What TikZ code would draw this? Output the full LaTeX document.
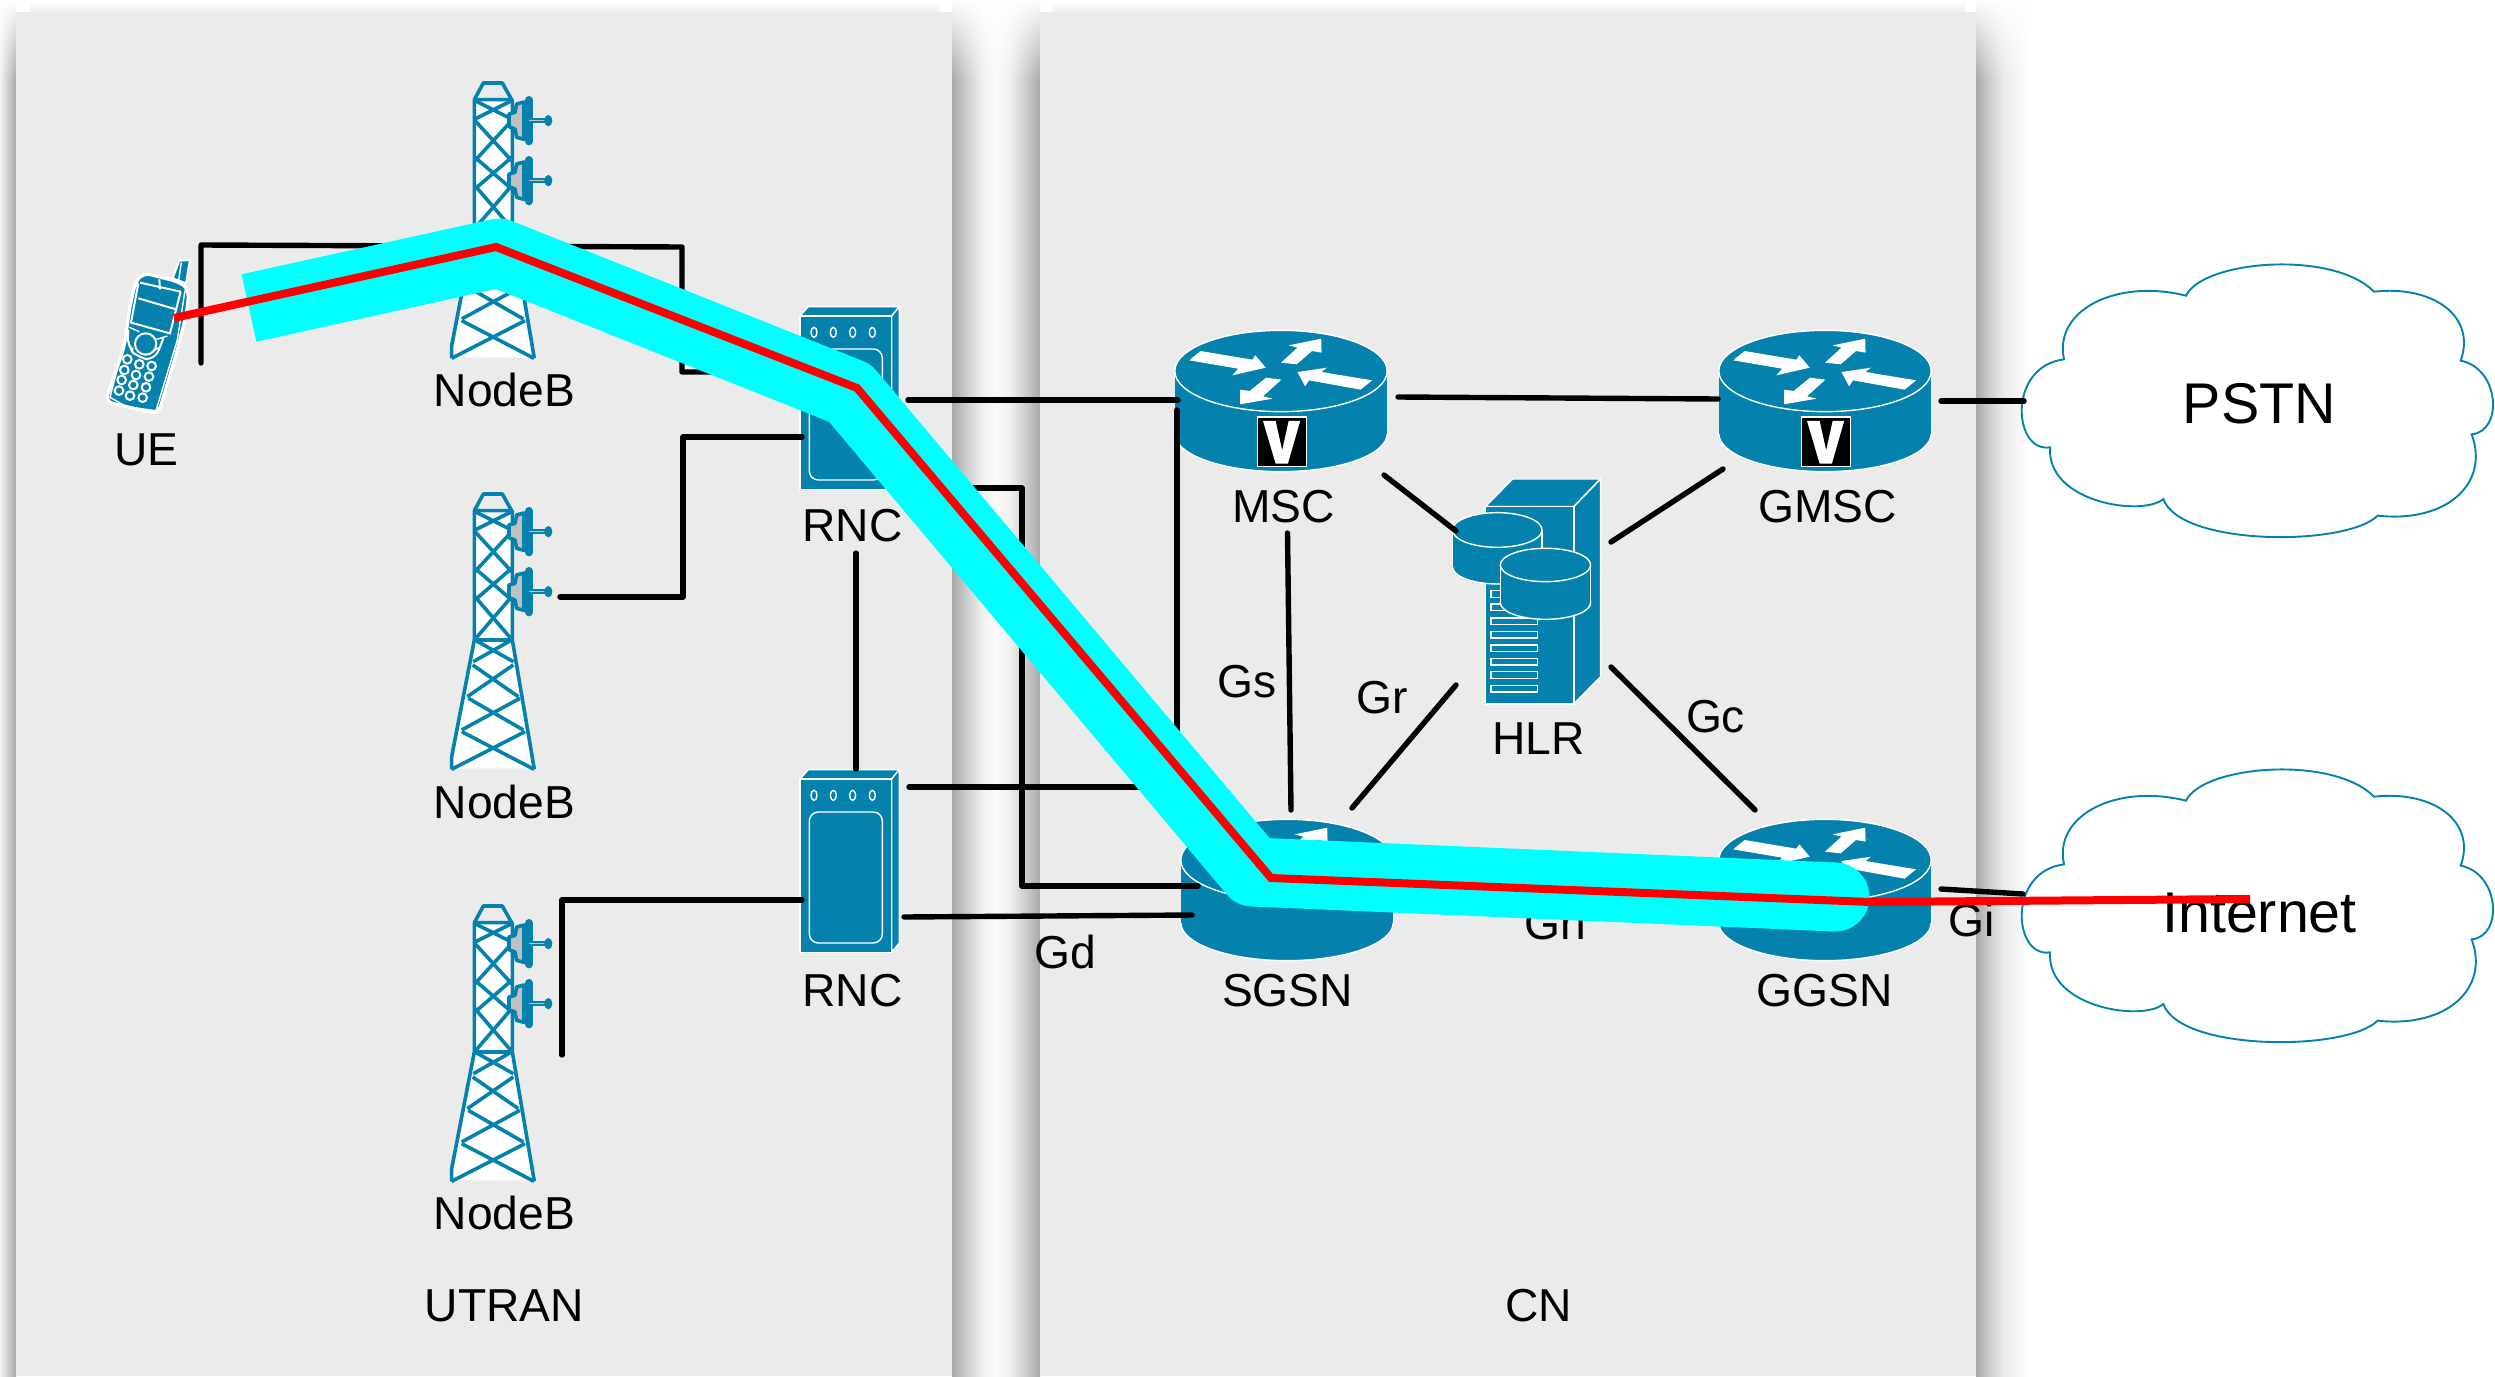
\documentclass[tikz,border=0pt]{standalone}
\usepackage{fontspec}
\setmainfont{Liberation Sans}
\usetikzlibrary{fadings}
\definecolor{ciscoblue}{HTML}{0481AD}
\definecolor{panelgrey}{HTML}{EBEBEB}
\definecolor{shadowgrey}{HTML}{A8A8A8}
\definecolor{dishgrey}{HTML}{C0C0C0}
\definecolor{routecyan}{HTML}{00FFFF}
\definecolor{routered}{HTML}{FF0000}
\pgfdeclarehorizontalshading{gapshade}{100bp}{
  color(0bp)=(shadowgrey);color(25bp)=(shadowgrey);
  color(33bp)=(white!80!black);color(42bp)=(white!94!black);color(50bp)=(white!98!black);
  color(58bp)=(white!94!black);color(67bp)=(white!80!black);
  color(75bp)=(shadowgrey);color(100bp)=(shadowgrey)}
\pgfdeclarehorizontalshading{rightshade}{100bp}{
  color(0bp)=(shadowgrey);color(25bp)=(shadowgrey);
  color(35bp)=(white!78!black);color(50bp)=(white!92!black);color(75bp)=(white);color(100bp)=(white)}
\tikzset{
  lbl/.style={inner sep=0pt,xshift=.75pt,text height=16.6pt,text depth=0pt,font=\fontsize{23.1}{26}\selectfont,text=black},
  biglbl/.style={lbl,text height=20.6pt,font=\fontsize{28.7}{32}\selectfont},
  link/.style={draw=black,line width=2.7pt,line cap=round,line join=round},
  wline/.style={draw=white,line width=.7pt},
  wblue/.style={fill=ciscoblue,draw=white,line width=.7pt,line join=round},
  towerline/.style={draw=ciscoblue,line width=1.8pt,line join=round},
  cloudline/.style={draw=ciscoblue,line width=.95pt,fill=white,line join=miter},
  routericon/.pic={
    \begin{scope}[xscale=.3827,yscale=.3333,shift={(-472,-212)}]
      \path[wblue] (472,400) ellipse [x radius=277.5,y radius=114];
      \fill[ciscoblue] (194.5,212) rectangle (749.5,400);
      \path[wblue] (472,212) ellipse [x radius=277.5,y radius=122];
      \fill[white] (262,152)--(397,178)--(405,165)--(432,202)--(345,225)--(360,205)--(232,180)--cycle;
      \fill[white] (472,187)--(513,192)--(553,152)--(578,157)--(577,115)--(492,135)--(515,142)--cycle;
      \fill[white] (710,240)--(680,268)--(545,240)--(535,258)--(515,215)--(592,202)--(578,215)--cycle;
      \fill[white] (473,238)--(433,232)--(390,272)--(365,268)--(365,312)--(450,295)--(425,288)--cycle;
    \end{scope}
  },
  vbadge/.pic={
    \begin{scope}[xscale=.3827,yscale=.3333,shift={(-472,-212)}]
      \path[fill=black,draw=white,line width=.7pt] (410,350) rectangle (538,498);
      \fill[white] (425,362)--(458,362)--(475,450)--(492,362)--(522,362)--(490,490)--(458,490)--cycle;
    \end{scope}
  },
  rncicon/.pic={
    \begin{scope}[scale=.3333]
      \path[wblue] (180,138)--(205,110)--(478,110)--(455,138)--cycle;
      \path[wblue] (455,138)--(478,110)--(478,630)--(455,658)--cycle;
      \path[wblue] (180,138) rectangle (455,658);
      \foreach \dx in {222,280,338,397}{\path[wline] (\dx,187) ellipse [x radius=9,y radius=15];}
      \path[wline,rounded corners=4.5pt] (208,237) rectangle (427,630);
    \end{scope}
  },
  towericon/.pic={
    \begin{scope}[scale=.3333]
      \fill[white] (133,92)--(247,92)--(247,480)--(313,865)--(65,865)--(135,480)--cycle;
      \path[towerline] (133,92)--(160,42)--(217,42)--(245,92);
      \path[towerline] (65,868)--(65,830)--(133,480)--(133,92)--(247,92)--(247,480)--(313,868);
      \path[towerline] (133,480)--(247,480);
      \path[towerline] (135,95)--(245,150) (245,95)--(135,150);
      \path[towerline] (135,155)--(245,275) (245,155)--(135,275);
      \path[towerline] (135,265)--(245,360) (245,265)--(135,360);
      \path[towerline] (135,350)--(245,478) (245,350)--(135,478);
      \path[towerline] (135,480)--(250,545) (245,480)--(130,545);
      \path[towerline] (128,555)--(265,650) (250,555)--(112,650);
      \path[towerline] (115,655)--(280,750) (270,655)--(95,750);
      \path[towerline] (95,755)--(312,868) (285,755)--(65,868);
      \foreach \ay in {155,335}{
        \begin{scope}[shift={(0,\ay)}]
          \path[fill=dishgrey,draw=ciscoblue,line width=1.8pt,line join=round]
            (237,-20)--(255,-25)--(260,-50)--(282,-56)--(282,56)--(260,50)--(255,25)--(237,18)--cycle;
          \draw[ciscoblue,line width=4pt,line cap=round] (297,-62)--(297,62);
          \draw[ciscoblue,line width=2.6pt] (297,0)--(355,0);
          \draw[dishgrey,line width=.5pt] (297,0)--(345,0);
          \fill[ciscoblue] (355,0) ellipse [x radius=12,y radius=17];
        \end{scope}
      }
    \end{scope}
  },
  phoneicon/.pic={
    \begin{scope}[scale=.3333]
      \path[fill=ciscoblue,draw=white,line width=1pt,line join=round]
        (248,85)--(268,32)--(300,30)--(288,100)--cycle;
      \path[wline] (274,38)--(266,92);
      \path[fill=ciscoblue,draw=white,line width=1.6pt,rounded corners=4pt]
        (158,68)--(272,97)--(297,120)--(290,190)--(262,300)--(205,492)--(45,455)--(60,415)--(103,290)--(118,180)--(135,100)--cycle;
      \path[wline,line width=1pt] (150,98)--(272,125);
      \path[wline,line width=1pt] (208,88)--(210,118);
      \path[wline,line width=1pt] (145,100)--(123,218)--(240,250)--(272,125);
      \path[wline,line width=1pt] (145,145)--(258,178);
      \path[wline] (285,122)--(262,270)--(198,482);
      \path[wline] (112,240)--(60,442)--(110,470)--(195,482);
      \path[wline,line width=1pt,rounded corners=5pt] (115,240)--(112,290)--(145,325)--(195,330)--(220,265);
      \path[wline] (118,232)--(148,245) (200,268)--(232,258) (115,280)--(130,300) (195,300)--(212,290);
      \path[fill=ciscoblue,draw=white,line width=1pt] (167,282) circle [radius=32];
      \foreach \kx/\ky in {112/328,148/343,185/348,103/360,138/375,177/380,95/390,130/405,168/412,87/422,120/437,158/443}
        {\path[fill=ciscoblue,draw=white,line width=1pt] (\kx,\ky) circle [radius=13];}
    \end{scope}
  },
  cloudicon/.pic={
    \begin{scope}[scale=.3333]
      \path[cloudline] (192,358) .. controls (160,210) and (350,115) .. (558,167)
        .. controls (610,60) and (1000,30) .. (1122,155)
        .. controls (1300,135) and (1430,230) .. (1382,362)
        .. controls (1500,385) and (1510,575) .. (1415,583)
        .. controls (1470,730) and (1340,850) .. (1133,827)
        .. controls (1040,920) and (540,920) .. (490,777)
        .. controls (430,830) and (140,790) .. (150,622)
        .. controls (40,640) and (20,380) .. (192,358) -- cycle;
    \end{scope}
  }
}
\begin{document}
\begin{tikzpicture}[x=.5pt,y=-.5pt]
\useasboundingbox (0,0) rectangle (2495,1376);
% shadows
\shade[left color=panelgrey!60!white,right color=shadowgrey] (0,0) rectangle (16,1376);
\shade[shading=gapshade] (952,0) rectangle (1040,1376);
\shade[shading=rightshade] (1976,0) rectangle (2030,1376);
\fill[white,path fading=south] (-1,-1) rectangle (17,80);
\fill[white,path fading=south] (951,-1) rectangle (1041,80);
\fill[white,path fading=south] (1975,-1) rectangle (2034,80);
\shade[top color=white,bottom color=white!94!black] (30,0) rectangle (940,12);
\shade[top color=white,bottom color=white!94!black] (1052,0) rectangle (1965,12);
% panels
\fill[panelgrey] (16,12) rectangle (952,1376);
\fill[panelgrey] (1040,12) rectangle (1976,1376);
% icons
\pic at (430,69) {towericon};
\pic at (430,480) {towericon};
\pic at (430,892) {towericon};
\pic at (90,250) {phoneicon};
\pic at (740,270) {rncicon};
\pic at (740,733) {rncicon};
\pic at (1281,371) {routericon};
\pic at (1281,371) {vbadge};
\pic at (1825,371) {routericon};
\pic at (1825,371) {vbadge};
\pic at (1287,860) {routericon};
\pic at (1825,860) {routericon};
\begin{scope}[shift={(1100,300)},xscale=.3827,yscale=.3333]
  \path[wblue] (1007,620)--(1078,537)--(1308,537)--(1238,620)--cycle;
  \path[wblue] (1238,620)--(1308,537)--(1308,1130)--(1238,1212)--cycle;
  \path[wblue] (1007,620) rectangle (1238,1212);
  \foreach \sy in {882,922,964,1004,1045,1085,1125,1166}{\path[wline] (1022,\sy-10) rectangle (1143,\sy+10);}
  \path[wblue] (1038,800) ellipse [x radius=117,y radius=52];
  \fill[ciscoblue] (921,690) rectangle (1155,800);
  \path[wline] (921,690)--(921,800) (1155,690)--(1155,800);
  \path[wblue] (1038,690) ellipse [x radius=117,y radius=52];
  \path[wblue] (1164,908) ellipse [x radius=118,y radius=50];
  \fill[ciscoblue] (1046,795) rectangle (1282,908);
  \path[wline] (1046,795)--(1046,908) (1282,795)--(1282,908);
  \path[wblue] (1164,795) ellipse [x radius=118,y radius=50];
\end{scope}
\pic at (2000,240) {cloudicon};
\pic at (2000,745) {cloudicon};
% labels
\node[lbl] (ueL) at (145,449) {UE};
\node[lbl] (nb1L) at (503,390) {NodeB};
\node[lbl] (nb2L) at (503,802) {NodeB};
\node[lbl] (nb3L) at (503,1213) {NodeB};
\node[lbl] (rnc1L) at (851,525) {RNC};
\node[lbl] (rnc2L) at (851,990) {RNC};
\node[lbl] (mscL) at (1282,506) {MSC};
\node[lbl] (gmscL) at (1826,506) {GMSC};
\node[lbl] (sgsnL) at (1286,990) {SGSN};
\node[lbl] (ggsnL) at (1823,990) {GGSN};
\node[lbl] (hlrL) at (1537,738) {HLR};
\node[lbl] (gsL) at (1246,681) {Gs};
\node[lbl] (grL) at (1381,697) {Gr};
\node[lbl] (gcL) at (1714,716) {Gc};
\node[lbl] (gdL) at (1064,952) {Gd};
\node[lbl] (gnL) at (1554,923) {Gn};
\node[lbl] (giL) at (1970,920) {Gi};
\node[lbl] (utranL) at (503,1305) {UTRAN};
\node[lbl] (cnL) at (1537,1305) {CN};
\node[biglbl] (pstnL) at (2258,403) {PSTN};
\node[biglbl] (inetL) at (2258,912) {Internet};
% connector end points
\coordinate (ueA) at (201,363);
\coordinate (ueB) at (201,245);
\coordinate (ueC) at (682,247);
\coordinate (ueD) at (682,372);
\coordinate (rnc1W) at (802,372);
\coordinate (nb2E) at (560,597);
\coordinate (nb2C) at (683,597);
\coordinate (nb2D) at (683,437);
\coordinate (rnc1W2) at (802,437);
\coordinate (nb3S) at (562,1055);
\coordinate (nb3C) at (562,900);
\coordinate (rnc2W) at (802,900);
\coordinate (rnc1E) at (908,400);
\coordinate (mscW) at (1178,400);
\coordinate (rnc1E2) at (905,488);
\coordinate (gdC1) at (1022,488);
\coordinate (gdC2) at (1022,886);
\coordinate (sgsnW) at (1198,886);
\coordinate (rnc2E) at (909,787);
\coordinate (iuC) at (1177,787);
\coordinate (mscS) at (1177,410);
\coordinate (rnc2E2) at (904,917);
\coordinate (sgsnW2) at (1192,915);
\coordinate (rnc1S) at (856,553);
\coordinate (rnc2N) at (856,769);
\coordinate (mscE) at (1398,397);
\coordinate (gmscW) at (1718,399);
\coordinate (gmscE) at (1941,401);
\coordinate (pstnW) at (2024,401);
\coordinate (mscSE) at (1384,475);
\coordinate (hlrNW) at (1456,531);
\coordinate (hlrNE) at (1611,542);
\coordinate (gmscSW) at (1723,469);
\coordinate (mscB) at (1287.5,533);
\coordinate (sgsnN) at (1291,810);
\coordinate (hlrSW) at (1456,685);
\coordinate (sgsnNE) at (1352,808);
\coordinate (hlrSE) at (1611,667);
\coordinate (ggsnNW) at (1755,810);
\coordinate (ggsnE) at (1941,889);
\coordinate (inetW) at (2023,894);
% connectors
\path[link] (ueA)--(ueB)--(ueC)--(ueD)--(rnc1W);
\path[link] (nb2E)--(nb2C)--(nb2D)--(rnc1W2);
\path[link] (nb3S)--(nb3C)--(rnc2W);
\path[link] (rnc1E)--(mscW);
\path[link] (rnc1E2)--(gdC1)--(gdC2)--(sgsnW);
\path[link] (rnc2E)--(iuC)--(mscS);
\path[link] (rnc2E2)--(sgsnW2);
\path[link] (rnc1S)--(rnc2N);
\path[link] (mscE)--(gmscW);
\path[link] (gmscE)--(pstnW);
\path[link] (mscSE)--(hlrNW);
\path[link] (hlrNE)--(gmscSW);
\path[link] (mscB)--(sgsnN);
\path[link] (hlrSW)--(sgsnNE);
\path[link] (hlrSE)--(ggsnNW);
\path[link] (ggsnE)--(inetW);
% highlighted route
\coordinate (c1) at (249,308);
\coordinate (c2) at (499,253);
\coordinate (c3) at (850,393);
\coordinate (c4) at (1253,872);
\coordinate (c5) at (1835,897);
\draw[routecyan,line width=34.5pt,line join=round] (c1)--(c2)--(c3)--(c4)--(c5);
\fill[routecyan] (c5) circle [radius=34.5];
\coordinate (r1) at (174,318);
\coordinate (r2) at (496,247);
\coordinate (r3) at (857,388);
\coordinate (r4) at (1271,878);
\coordinate (r5) at (1870,902);
\coordinate (r6) at (2250,899);
\draw[routered,line width=4pt,line join=miter] (r1)--(r2)--(r3)--(r4)--(r5)--(r6);
\end{tikzpicture}
\end{document}
